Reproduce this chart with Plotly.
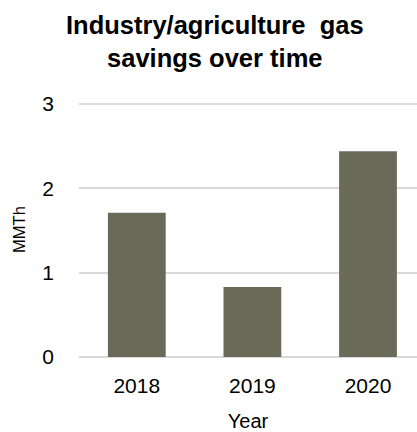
import plotly.graph_objects as go

# Annual gas savings from industry/agriculture programmes (MMTh)
years = ["2018", "2019", "2020"]
savings_mmth = [1.71, 0.83, 2.44]
y_ticks = [0, 1, 2, 3]

BAR_COLOR = "#696a58"
GRID_COLOR = "#d9d9d9"
FONT = "Liberation Sans, Arial, sans-serif"

fig = go.Figure(
    go.Bar(
        x=years,
        y=savings_mmth,
        width=0.5,
        marker=dict(color=BAR_COLOR, line=dict(width=0)),
        hovertemplate="%{x}: %{y:.2f} MMTh<extra></extra>",
    )
)

# Two-line bold heading placed above the plot area
fig.add_annotation(
    text="<b>Industry/agriculture  gas<br>savings over time</b>",
    xref="paper",
    yref="paper",
    x=0.402,
    xanchor="center",
    y=1.0,
    yanchor="bottom",
    yshift=28,
    showarrow=False,
    align="center",
    font=dict(family=FONT, size=25.5, color="#000000"),
)

fig.update_layout(
    width=417,
    height=432,
    margin=dict(l=79, r=0, t=102, b=75),
    paper_bgcolor="white",
    plot_bgcolor="white",
    showlegend=False,
    font=dict(family=FONT, color="#000000", size=20),
    xaxis=dict(
        type="category",
        range=[-0.5, 2.424],
        showgrid=False,
        showline=False,
        ticks="",
        ticklabelstandoff=14,
        tickfont=dict(size=21),
        title=dict(text="Year", font=dict(size=20), standoff=18),
    ),
    yaxis=dict(
        range=[0, 3.0237],
        tickvals=y_ticks,
        showgrid=True,
        gridcolor=GRID_COLOR,
        gridwidth=1.5,
        zeroline=True,
        zerolinecolor=GRID_COLOR,
        zerolinewidth=1.5,
        showline=False,
        ticks="",
        ticklabelstandoff=24,
        tickfont=dict(size=21),
        title=dict(text="MMTh", font=dict(size=16.5), standoff=12),
    ),
)

fig.write_html("out.html")
